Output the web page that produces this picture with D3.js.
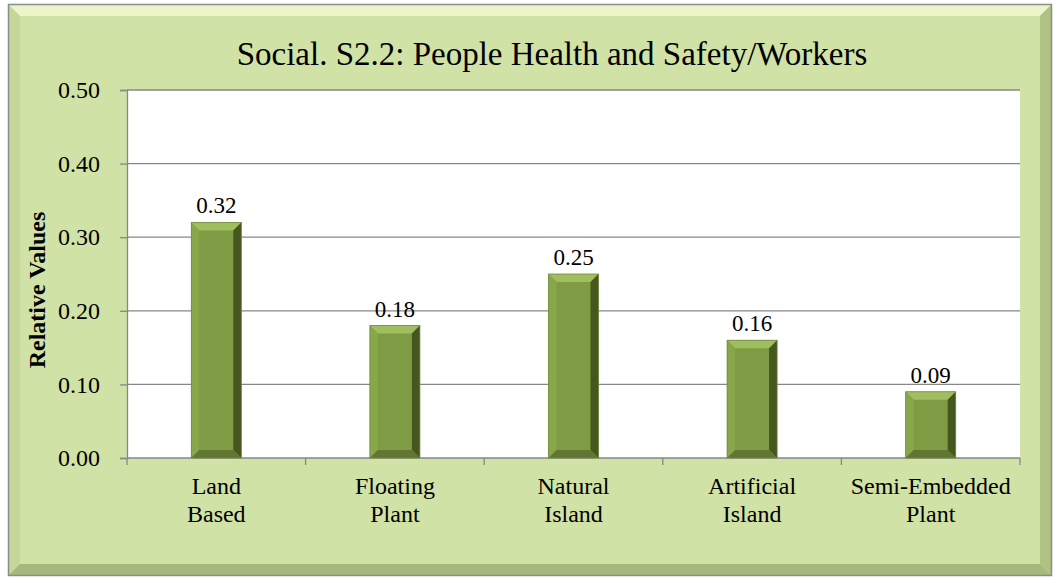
<!DOCTYPE html>
<html>
<head>
<meta charset="utf-8">
<script src="https://cdn.jsdelivr.net/npm/d3@7"></script>
<style>
  body { margin: 0; background: #fff; }
  text { font-family: "Liberation Serif", "DejaVu Serif", serif; fill: #000; }
</style>
</head>
<body>
<svg id="chart" width="1058" height="579"></svg>
<script>
// data
const categories = ["Land Based", "Floating Plant", "Natural Island", "Artificial Island", "Semi-Embedded Plant"];
const categoryLines = [["Land", "Based"], ["Floating", "Plant"], ["Natural", "Island"], ["Artificial", "Island"], ["Semi-Embedded", "Plant"]];
const values = [0.32, 0.18, 0.25, 0.16, 0.09];
const yTicks = [0, 0.1, 0.2, 0.3, 0.4, 0.5];
const title = "Social. S2.2: People Health and Safety/Workers";
const yTitle = "Relative Values";

const svg = d3.select("#chart");
const plot = { left: 127, right: 1020, top: 90, bottom: 458 };

// chart area with bevelled frame
const box = { x: 8, y: 4, w: 1044, h: 572 };
const bev = 12;
svg.append("rect")
    .attr("x", box.x).attr("y", box.y)
    .attr("width", box.w).attr("height", box.h)
    .attr("fill", "#d1e2a6");
const bx0 = box.x, by0 = box.y, bx1 = box.x + box.w, by1 = box.y + box.h;
const frame = [
    { pts: [[bx0, by0], [bx1, by0], [bx1 - bev, by0 + bev], [bx0 + bev, by0 + bev]], c: "#ebf5c9" },
    { pts: [[bx0, by0], [bx0 + bev, by0 + bev], [bx0 + bev, by1 - bev], [bx0, by1]], c: "#c5d799" },
    { pts: [[bx1, by0], [bx1, by1], [bx1 - bev, by1 - bev], [bx1 - bev, by0 + bev]], c: "#b0c184" },
    { pts: [[bx0, by1], [bx0 + bev, by1 - bev], [bx1 - bev, by1 - bev], [bx1, by1]], c: "#a7b87d" }
];
svg.append("g").selectAll("polygon")
    .data(frame)
    .enter().append("polygon")
    .attr("points", d => d.pts.map(p => p.join(",")).join(" "))
    .attr("fill", d => d.c);
svg.append("rect")
    .attr("x", box.x + 0.5).attr("y", box.y + 0.5)
    .attr("width", box.w - 1).attr("height", box.h - 1)
    .attr("fill", "none")
    .attr("stroke", "#8c8c8c")
    .attr("stroke-width", 1.5);

const x = d3.scaleBand()
    .domain(categories)
    .range([plot.left, plot.right])
    .paddingInner(0.72)
    .paddingOuter(0.36);

const y = d3.scaleLinear()
    .domain([0, 0.5])
    .range([plot.bottom, plot.top]);

// plot area
svg.append("rect")
    .attr("x", plot.left).attr("y", plot.top)
    .attr("width", plot.right - plot.left)
    .attr("height", plot.bottom - plot.top)
    .attr("fill", "#fff");

// gridlines
svg.append("g")
    .selectAll("line")
    .data(yTicks.filter(d => d > 0))
    .enter().append("line")
    .attr("x1", plot.left).attr("x2", plot.right)
    .attr("y1", d => y(d)).attr("y2", d => y(d))
    .attr("stroke", "#878787")
    .attr("stroke-width", 1.3);

// y axis
svg.append("g")
    .attr("transform", `translate(${plot.left},0)`)
    .call(d3.axisLeft(y).tickValues(yTicks).tickSize(7).tickPadding(20).tickFormat(d3.format(".2f")))
    .call(g => g.selectAll("line, path").attr("stroke", "#878787").attr("stroke-width", 1.3))
    .call(g => g.selectAll("text").attr("font-size", 24).attr("font-family", "Liberation Serif").attr("fill", "#000"));

// x axis line and ticks at category boundaries
const xAxis = svg.append("g");
xAxis.append("line")
    .attr("x1", plot.left).attr("x2", plot.right)
    .attr("y1", plot.bottom).attr("y2", plot.bottom)
    .attr("stroke", "#878787").attr("stroke-width", 1.3);
const step = x.step();
xAxis.selectAll("line.tick")
    .data(d3.range(categories.length + 1))
    .enter().append("line")
    .attr("class", "tick")
    .attr("x1", i => plot.left + i * step).attr("x2", i => plot.left + i * step)
    .attr("y1", plot.bottom).attr("y2", plot.bottom + 7)
    .attr("stroke", "#878787").attr("stroke-width", 1.3);

xAxis.selectAll("text.cat")
    .data(categories)
    .enter().append("text")
    .attr("class", "cat")
    .attr("text-anchor", "middle")
    .attr("font-size", 24)
    .each(function (d, i) {
        const t = d3.select(this);
        categoryLines[i].forEach((line, j) => {
            t.append("tspan")
                .attr("x", x(d) + x.bandwidth() / 2)
                .attr("y", 494 + j * 28)
                .text(line);
        });
    });

// bars with bevel
const bb = 8;
const bars = svg.append("g").selectAll("g")
    .data(values)
    .enter().append("g");
bars.append("rect")
    .attr("x", (d, i) => x(categories[i]))
    .attr("y", d => y(d))
    .attr("width", x.bandwidth())
    .attr("height", d => y(0) - y(d))
    .attr("fill", "#7f9b43");
const bevelFaces = (d, i) => {
    const x0 = x(categories[i]), x1 = x0 + x.bandwidth();
    const y0 = y(d), y1 = y(0);
    return [
        { pts: [[x0, y0], [x1, y0], [x1 - bb, y0 + bb], [x0 + bb, y0 + bb]], c: "#a0bd5f" },
        { pts: [[x0, y0], [x0 + bb, y0 + bb], [x0 + bb, y1 - bb], [x0, y1]], c: "#88a64a" },
        { pts: [[x1, y0], [x1, y1], [x1 - bb, y1 - bb], [x1 - bb, y0 + bb]], c: "#46561f" },
        { pts: [[x0, y1], [x0 + bb, y1 - bb], [x1 - bb, y1 - bb], [x1, y1]], c: "#607631" }
    ];
};
bars.each(function (d, i) {
    d3.select(this).selectAll("polygon")
        .data(bevelFaces(d, i))
        .enter().append("polygon")
        .attr("points", f => f.pts.map(p => p.join(",")).join(" "))
        .attr("fill", f => f.c);
});
bars.append("rect")
    .attr("x", (d, i) => x(categories[i]))
    .attr("y", d => y(d))
    .attr("width", x.bandwidth())
    .attr("height", d => y(0) - y(d))
    .attr("fill", "none")
    .attr("stroke", "#6f8a3a")
    .attr("stroke-width", 0.8);

// value labels
svg.append("g").selectAll("text")
    .data(values)
    .enter().append("text")
    .attr("x", (d, i) => x(categories[i]) + x.bandwidth() / 2)
    .attr("y", d => y(d) - 9)
    .attr("text-anchor", "middle")
    .attr("font-size", 23)
    .text(d => d3.format(".2f")(d));

// titles
svg.append("text")
    .attr("x", 552)
    .attr("y", 65)
    .attr("text-anchor", "middle")
    .attr("font-size", 33)
    .text(title);

svg.append("text")
    .attr("transform", "translate(45,290) rotate(-90)")
    .attr("text-anchor", "middle")
    .attr("font-size", 24)
    .attr("font-weight", "bold")
    .text(yTitle);
</script>
</body>
</html>
